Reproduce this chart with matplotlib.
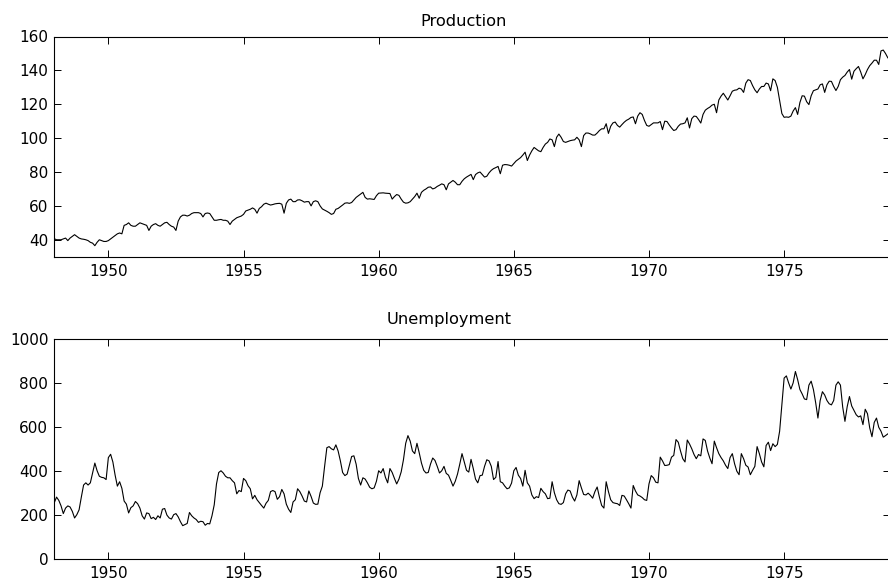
import numpy as np
import matplotlib
matplotlib.use('Agg')
import matplotlib.pyplot as plt

# monthly values, Jan 1948 .. Dec 1978
production = [
    40.6, 40, 40, 40, 40.5, 41, 39.5, 41, 42, 43, 42, 41,                      # 1948
    40.5, 40.3, 40, 39.5, 38.5, 38, 36.5, 38.5, 40, 39.5, 39, 39,              # 1949
    39.5, 40.5, 41.5, 42.5, 43.5, 44, 43.5, 48.5, 49, 50, 48.5, 48,            # 1950
    48, 49, 50, 49.5, 49, 48.5, 45.5, 48, 49, 49.5, 48.5, 48,                  # 1951
    49, 50, 50.3, 49, 48, 47.5, 45.5, 51, 53.5, 54.5, 54.5, 54,                # 1952
    54.5, 55.5, 56, 56, 56, 55.5, 53.5, 55.5, 55.8, 55.5, 53.5, 51.5,          # 1953
    51.5, 51.8, 52, 51.5, 51.5, 51, 49, 51, 52, 53, 53.5, 54,                  # 1954
    55, 57, 57.5, 58, 58.8, 58, 55.7, 58.5, 59.5, 61, 61.6, 61,                # 1955
    60.5, 60.8, 61.2, 61.4, 61.5, 61, 55.7, 61.5, 63.5, 64, 62.5, 62.5,        # 1956
    63.5, 63.6, 63, 62.2, 62.5, 62.5, 60, 62.5, 63, 62.5, 60, 58.2,            # 1957
    57.5, 56.8, 56, 55, 55.5, 58, 58.5, 59.5, 60.5, 61.6, 61.8, 61.5,          # 1958
    62, 63.5, 65, 66, 67, 68, 65, 64, 64.2, 64, 63.8, 66,                      # 1959
    67.5, 67.6, 67.7, 67.5, 67.4, 67.3, 64, 65.5, 66.7, 66.2, 64, 62.2,        # 1960
    61.6, 61.8, 62.5, 64, 65.5, 67.5, 64.5, 68, 69.2, 70, 71, 71.2,            # 1961
    70, 70.5, 71.5, 72.2, 73, 72.5, 69.5, 73, 74, 75, 74, 72.5,                # 1962
    72.5, 74.5, 76, 77, 77.8, 78.6, 75.5, 78.5, 79.5, 80, 78.5, 77,            # 1963
    77.5, 79.5, 81, 82, 82.6, 83.3, 79, 84, 84.4, 84.3, 84, 83.5,              # 1964
    85, 86.5, 87.5, 88.5, 90, 91.7, 86.8, 90, 92.5, 94.5, 93.5, 92.5,          # 1965
    92, 94.5, 96.5, 97.5, 99.5, 99, 95, 100.5, 102.4, 100.5, 98, 97.5,         # 1966
    98, 98.5, 98.8, 99, 100.5, 99, 95, 101.5, 103, 103, 102.5, 101.8,          # 1967
    101.8, 103, 104.5, 105.5, 105.5, 108.5, 102.8, 107, 109, 109.5, 107.5, 106.5,  # 1968
    108, 109.4, 110.5, 111.2, 112.2, 112.5, 108.5, 113, 115, 114, 110.4, 107.5,    # 1969
    107, 108, 109, 109, 109, 109.8, 105, 110, 109.8, 107.8, 106, 104.5,        # 1970
    105, 107, 108.3, 108.5, 109, 112, 106, 111.5, 113, 112.8, 111, 108.9,      # 1971
    114, 116.5, 117.5, 118.3, 119.5, 120, 115, 122.5, 124.8, 126.5, 124.5, 122.5,  # 1972
    125, 127.7, 128.3, 128.5, 129.5, 129, 127, 132.5, 134.5, 134, 131, 128.5,  # 1973
    126.8, 129, 130.5, 130.5, 132.5, 132, 128, 135, 134, 130, 122.2, 114.5,    # 1974
    112.3, 112.5, 112.3, 113, 116, 118, 114, 121, 125, 124.8, 121.5, 119.8,    # 1975
    125, 128, 128.5, 129, 131.5, 132, 127, 131.5, 133.6, 133.5, 130.5, 128.1,  # 1976
    130.5, 134.5, 136, 137, 139, 140.5, 134.8, 139.5, 141, 142.3, 139, 135,    # 1977
    137.5, 140.5, 142.8, 144.3, 146, 146, 143.5, 151.5, 152, 150, 147.5, 146,  # 1978
]

unemployment = [
    255, 280, 265, 240, 205, 230, 240, 235, 215, 185, 200, 222,    # 1948
    280, 335, 345, 335, 345, 390, 435, 400, 375, 370, 368, 360,    # 1949
    460, 475, 440, 380, 330, 350, 320, 262, 248, 208, 232, 240,    # 1950
    260, 250, 230, 195, 180, 208, 205, 182, 188, 178, 195, 185,    # 1951
    225, 228, 198, 185, 180, 200, 205, 190, 168, 150, 155, 160,    # 1952
    210, 195, 185, 178, 165, 170, 168, 152, 160, 158, 195, 245,    # 1953
    340, 392, 400, 390, 375, 368, 368, 355, 345, 295, 310, 305,    # 1954
    365, 355, 332, 318, 272, 288, 268, 255, 242, 230, 252, 265,    # 1955
    305, 310, 305, 270, 282, 315, 295, 248, 225, 210, 258, 268,    # 1956
    318, 305, 285, 262, 258, 308, 283, 253, 247, 248, 300, 330,    # 1957
    420, 505, 510, 500, 495, 518, 490, 445, 392, 378, 385, 425,    # 1958
    465, 468, 430, 365, 335, 368, 362, 345, 325, 318, 322, 352,    # 1959
    400, 390, 410, 370, 345, 410, 392, 365, 340, 362, 395, 450,    # 1960
    525, 560, 535, 490, 478, 525, 482, 435, 402, 390, 392, 430,    # 1961
    458, 447, 420, 390, 400, 420, 388, 380, 356, 330, 352, 385,    # 1962
    430, 478, 440, 402, 394, 452, 410, 362, 345, 378, 380, 420,    # 1963
    450, 445, 420, 360, 370, 442, 350, 345, 330, 318, 322, 344,    # 1964
    400, 415, 380, 365, 330, 402, 345, 330, 290, 273, 282, 278,    # 1965
    320, 305, 295, 273, 275, 350, 300, 268, 250, 247, 255, 295,    # 1966
    312, 308, 280, 262, 290, 355, 322, 292, 290, 298, 288, 275,    # 1967
    305, 326, 280, 242, 230, 350, 305, 268, 255, 252, 250, 242,    # 1968
    288, 285, 268, 250, 230, 333, 308, 290, 285, 278, 268, 265,    # 1969
    340, 378, 368, 348, 345, 462, 445, 424, 425, 428, 462, 470,    # 1970
    542, 530, 490, 455, 440, 540, 522, 500, 474, 455, 474, 468,    # 1971
    545, 538, 490, 458, 432, 535, 505, 478, 460, 445, 425, 410,    # 1972
    460, 478, 432, 398, 382, 478, 455, 425, 417, 382, 402, 420,    # 1973
    510, 478, 440, 418, 515, 530, 492, 523, 510, 520, 580, 700,    # 1974
    822, 832, 800, 772, 800, 852, 815, 770, 750, 727, 724, 790,    # 1975
    808, 770, 710, 640, 720, 760, 745, 720, 705, 700, 720, 790,    # 1976
    805, 790, 690, 625, 692, 738, 695, 675, 655, 645, 650, 610,    # 1977
    680, 660, 595, 555, 620, 640, 598, 580, 553, 560, 568, 575,    # 1978
]

start_year = 1948
year_ticks = [1950, 1955, 1960, 1965, 1970, 1975]
prod_ticks = [40, 60, 80, 100, 120, 140, 160]
unemp_ticks = [0, 200, 400, 600, 800, 1000]

t = start_year + np.arange(len(production)) / 12.0

plt.rcParams['xtick.direction'] = 'in'
plt.rcParams['ytick.direction'] = 'in'
plt.rcParams['font.size'] = 11

fig = plt.figure(figsize=(8.88, 5.8), dpi=100)

W, H = 888.0, 580.0
left, right = 54.3, 890.0
ax1 = fig.add_axes([left / W, 1 - 256.7 / H, (right - left) / W, 220.2 / H])
ax2 = fig.add_axes([left / W, 1 - 558.6 / H, (right - left) / W, 219.6 / H])

for ax, y, yt, yl in [(ax1, production, prod_ticks, (30, 160)),
                      (ax2, unemployment, unemp_ticks, (0, 1000))]:
    ax.plot(t, y, color='black', linewidth=0.8)
    ax.set_xlim(t[0], t[-1])
    ax.set_ylim(*yl)
    ax.set_xticks(year_ticks)
    ax.set_yticks(yt)
    ax.tick_params(which='both', top=True, right=True, length=4.8, width=0.7)
    ax.tick_params(axis='x', pad=5.5)
    ax.tick_params(axis='y', pad=4.3)
    for s in ax.spines.values():
        s.set_linewidth(0.8)

fig.text(463.3 / W, 1 - 25.7 / H, 'Production', ha='center', va='baseline', fontsize=11.7)
fig.text(449.5 / W, 1 - 324 / H, 'Unemployment', ha='center', va='baseline', fontsize=11.7)

plt.savefig('out.png', dpi=100)
